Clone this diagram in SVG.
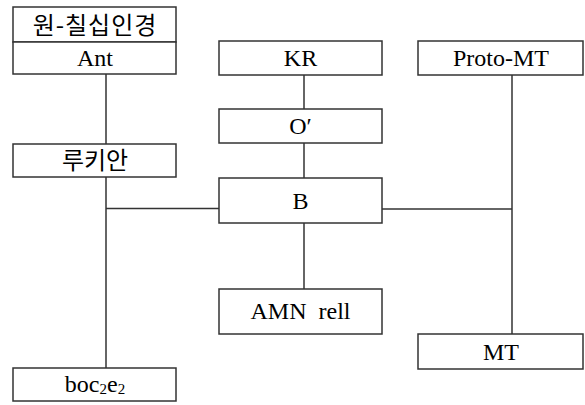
<svg xmlns="http://www.w3.org/2000/svg" width="585" height="405" viewBox="0 0 585 405">
<defs>
<style>
.box{fill:#fff;stroke:#333;stroke-width:1.5}
.ln{stroke:#333;stroke-width:1.5;fill:none}
</style>
</defs>
<rect width="585" height="405" fill="#fff"/>
<g id="connectors">
<line class="ln" x1="106" y1="74" x2="106" y2="144"/>
<line class="ln" x1="106" y1="177" x2="106" y2="368"/>
<line class="ln" x1="106" y1="208.5" x2="219" y2="208.5"/>
<line class="ln" x1="304" y1="75" x2="304" y2="109"/>
<line class="ln" x1="304" y1="143" x2="304" y2="178"/>
<line class="ln" x1="304" y1="223" x2="304" y2="289"/>
<line class="ln" x1="382" y1="209" x2="512" y2="209"/>
<line class="ln" x1="512" y1="75" x2="512" y2="334"/>
</g>
<g id="node-septuagint">
<rect class="box" x="13" y="7" width="163" height="35"/>
<text x="95" y="34" font-family="Noto Sans CJK KR, sans-serif" font-size="24" text-anchor="middle" letter-spacing="1">원-칠십인경</text>
</g>
<g id="node-ant">
<rect class="box" x="13" y="42" width="163" height="32"/>
<text x="95" y="66" font-family="Liberation Serif" font-size="24" text-anchor="middle">Ant</text>
</g>
<g id="node-lucian">
<rect class="box" x="13" y="144" width="163" height="33"/>
<text x="95" y="169" font-family="Noto Sans CJK KR, sans-serif" font-size="24" text-anchor="middle">루키안</text>
</g>
<g id="node-boc">
<rect class="box" x="13" y="368" width="163" height="33"/>
<text x="95" y="392" font-family="Liberation Serif" font-size="24" text-anchor="middle">boc<tspan font-size="15" dy="2">2</tspan><tspan dy="-2">e</tspan><tspan font-size="15" dy="2">2</tspan></text>
</g>
<g id="node-kr">
<rect class="box" x="219" y="41" width="163" height="34"/>
<text x="300.5" y="66" font-family="Liberation Serif" font-size="24" text-anchor="middle">KR</text>
</g>
<g id="node-o">
<rect class="box" x="219" y="109" width="163" height="34"/>
<text x="300.5" y="134" font-family="Liberation Serif" font-size="24" text-anchor="middle">O′</text>
</g>
<g id="node-b">
<rect class="box" x="219" y="178" width="163" height="45"/>
<text x="300.5" y="209" font-family="Liberation Serif" font-size="24" text-anchor="middle">B</text>
</g>
<g id="node-amn">
<rect class="box" x="219" y="289" width="163" height="45"/>
<text x="300.5" y="319" font-family="Liberation Serif" font-size="24" text-anchor="middle" xml:space="preserve">AMN  rell</text>
</g>
<g id="node-protomt">
<rect class="box" x="418" y="41" width="165" height="34"/>
<text x="501" y="66" font-family="Liberation Serif" font-size="24" text-anchor="middle">Proto-MT</text>
</g>
<g id="node-mt">
<rect class="box" x="418" y="334" width="165" height="35"/>
<text x="501" y="360" font-family="Liberation Serif" font-size="24" text-anchor="middle">MT</text>
</g>
</svg>
